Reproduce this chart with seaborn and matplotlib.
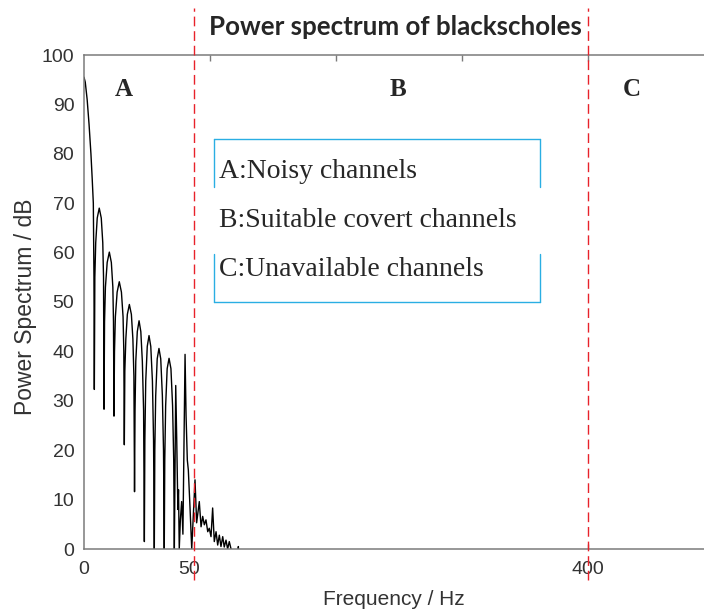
import matplotlib
matplotlib.use("Agg")
import matplotlib.pyplot as plt
from matplotlib.lines import Line2D
import seaborn as sns
import pandas as pd

# ---- data (x in axis units where the "400" tick sits at 400) ----
freq = [0, 1.0, 2.5, 4.0, 5.5, 6.5, 7.4, 7.9, 8.2,
        8.6, 9.3, 10.5, 12.1, 13.7, 14.9, 15.5, 15.9,
        16.3, 17.0, 18.4, 20.1, 21.7, 22.9, 23.4, 23.8,
        24.2, 24.9, 26.3, 28.0, 29.7, 31.0, 31.6, 32.0,
        32.4, 33.2, 34.4, 36.0, 37.6, 38.8, 39.6, 40.1,
        40.5, 41.1, 42.3, 43.7, 45.1, 46.3, 47.3, 47.9,
        48.3, 49.0, 50.2, 51.6, 53.0, 54.3, 55.2, 55.8,
        56.2, 56.9, 58.1, 59.5, 60.9, 62.2, 63.1, 63.7,
        64.1, 64.8, 66.0, 67.5, 69.0, 70.3, 71.2, 71.7,
        72.8, 73.6, 74.5, 75.0, 75.6, 76.5, 77.5, 78.5, 79.3, 80.2,
        81.0, 82.0, 82.8, 83.5, 84.1, 85.5,
        88.1, 89.4, 91.5, 92.9, 94.2, 95.5, 96.8, 98.2, 99.4, 100.8,
        102.1, 103.4, 104.8, 106.1, 107.4, 108.7, 110.1, 111.3, 112.7,
        114.0, 115.3, 116.7, 118.0, 122.2, 122.5, 122.8, 125.0]
power = [95.5, 94.5, 91.0, 86.0, 80.0, 75.0, 70.0, 55.0, 32.3,
         55, 62, 67, 69.0, 67, 62, 55, 28.3,
         46, 53, 58, 60.1, 58, 53, 46, 26.9,
         40, 47, 52, 54.1, 52, 47, 40, 21.1,
         36, 42.5, 47.5, 49.5, 47.5, 42.5, 35, 11.6,
         28, 38, 44, 46.2, 44, 38, 28, 1.5,
         22, 34, 41, 43.2, 41, 34, 22, 0,
         20, 31, 38.5, 40.6, 38.5, 31, 20, 0,
         18, 29, 36.5, 38.6, 36.5, 29, 18, 0,
         33.1, 22, 8, 12, 0, 6, 9.6, 3, 20, 39.4,
         27, 18, 16, 12, 8.6, 0,
         14.0, 5.3, 9.6, 4.5, 6.6, 4.9, 5.9, 3.5, 4.2, 2.5,
         8.3, 1.5, 3.5, 0.8, 2.8, 0.5, 2.5, 0.4, 1.8,
         0, 1.5, 0, -8, -2, 0.5, -2, -10]

x_tick_pos = [0, 83.3, 400]
x_tick_labels = ["0", "50", "400"]
top_tick_pos = [100, 200, 300, 400]
y_ticks = [0, 10, 20, 30, 40, 50, 60, 70, 80, 90, 100]
boundaries = [87.3, 400]
region_labels = ["A", "B", "C"]
region_x = [31.7, 249.2, 434.9]
legend_lines = ["A:Noisy channels", "B:Suitable covert channels", "C:Unavailable channels"]

title = "Power spectrum of blackscholes"
xlabel = "Frequency / Hz"
ylabel = "Power Spectrum / dB"

# ---- figure ----
sns.set_style("white")
plt.rcParams["font.family"] = ["Liberation Sans", "DejaVu Sans"]

W, H = 704, 610
fig = plt.figure(figsize=(W / 100, H / 100), dpi=100)
left_px, right_px, top_px, bot_px = 84, 704, 55, 549
ax = fig.add_axes([left_px / W, 1 - bot_px / H, (right_px - left_px) / W, (bot_px - top_px) / H])

df = pd.DataFrame({"freq": freq, "power": power})
sns.lineplot(data=df, x="freq", y="power", ax=ax, color="black", linewidth=1.0,
             sort=False, estimator=None)

ax.set_xlim(0, (right_px - left_px) / 1.26)
ax.set_ylim(0, 100)

spine_col = "#7a7a7a"
for s in ["left", "bottom", "top"]:
    ax.spines[s].set_visible(True)
    ax.spines[s].set_color(spine_col)
    ax.spines[s].set_linewidth(1.1)
ax.spines["right"].set_visible(False)

ax.set_xticks(x_tick_pos)
ax.set_xticklabels(x_tick_labels)
ax.set_yticks(y_ticks)
ax.tick_params(axis="x", direction="in", length=0, pad=9, labelsize=14, labelcolor="#333333")
ax.tick_params(axis="y", direction="in", length=5, width=1, color=spine_col, pad=7,
               labelsize=14, labelcolor="#333333")
# tick mark only at 400 on bottom
ax.vlines([400], 0, 1.0, color=spine_col, lw=1)

sec = ax.secondary_xaxis("top")
sec.set_xticks(top_tick_pos)
sec.set_xticklabels([])
sec.tick_params(direction="in", length=4, width=1, color=spine_col)
sec.spines["top"].set_visible(False)

ax.set_xlabel(xlabel, fontsize=15, color="#333333", labelpad=8)
ax.set_ylabel(ylabel, fontsize=16.5, color="#333333")
ax.yaxis.set_label_coords(-0.075, 0.49)

# boundaries (extend outside axes)
ax.vlines(boundaries, -6.3, 109.5, colors="#e8222a", linestyles=(0, (7, 3.5)),
          linewidth=1.0, clip_on=False, zorder=5)

# region letters
for lab, xx in zip(region_labels, region_x):
    ax.text(xx, 93, lab, fontsize=18, fontweight="bold", family="Liberation Serif",
            ha="center", va="center")

# title
fig.text(395 / W, 1 - 27 / H, title, fontsize=18.6, fontweight="bold", family="Lato",
         ha="center", va="center")

# legend-like box with gaps in side borders
bc = "#2aaee3"
bx0, bx1, by0, by1 = 214 / W, 540 / W, 1 - 139 / H, 1 - 302 / H
g0, g1 = 1 - 187 / H, 1 - 254 / H
segs = [([bx0, bx1], [by0, by0]), ([bx0, bx1], [by1, by1]),
        ([bx0, bx0], [by0, g0]), ([bx0, bx0], [g1, by1]),
        ([bx1, bx1], [by0, g0]), ([bx1, bx1], [g1, by1])]
for xs, ys in segs:
    fig.add_artist(Line2D(xs, ys, transform=fig.transFigure, color=bc, lw=1.0))
for i, line in enumerate(legend_lines):
    fig.text(219 / W, 1 - (172 + 48.5 * i) / H, line, fontsize=20, family="Liberation Serif",
             ha="left", va="center")

fig.savefig("out.png", dpi=100)
